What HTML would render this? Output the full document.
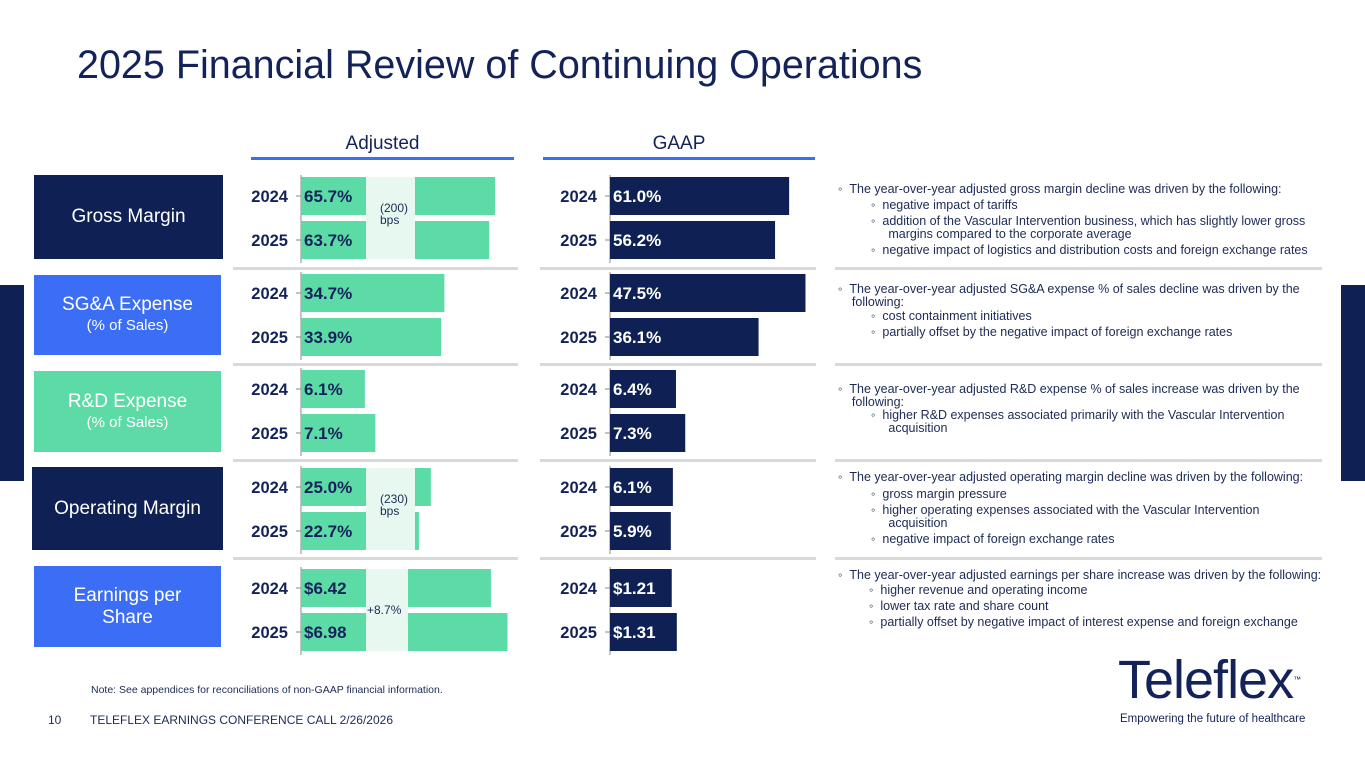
<!DOCTYPE html>
<html><head><meta charset="utf-8">
<style>
body{margin:0;width:1365px;height:768px;background:#fff;position:relative;overflow:hidden;font-family:"Liberation Sans",sans-serif;color:#13235a}
.a{position:absolute;white-space:nowrap}
.box{position:absolute;color:#fff;text-align:center;display:flex;flex-direction:column;justify-content:center;font-size:19px;line-height:22px}
.box small{font-size:15px;line-height:20px}
.t{position:absolute;font-size:12.5px;line-height:13px;color:#1c2a55;white-space:nowrap}
</style></head><body>
<div class="a" style="left:77px;top:43px;font-size:39.5px;color:#13235a">2025 Financial Review of Continuing Operations</div>

<div class="a" style="left:0;top:285px;width:24px;height:196px;background:#0f2154"></div>
<div class="a" style="left:1341px;top:285px;width:24px;height:196px;background:#0f2154"></div>

<div class="a" style="left:251px;top:133px;width:263px;text-align:center;font-size:19px;color:#13235a">Adjusted</div>
<div class="a" style="left:251px;top:157px;width:263px;height:3px;background:#3b6ef5"></div>
<div class="a" style="left:543px;top:133px;width:272px;text-align:center;font-size:19px;color:#13235a">GAAP</div>
<div class="a" style="left:543px;top:157px;width:272px;height:3px;background:#3b6ef5"></div>

<div class="box" style="left:34px;top:175px;width:189px;height:84px;background:#0f2154">Gross Margin</div>
<div class="box" style="left:34px;top:275px;width:187px;height:80px;background:#3b6ef5"><span>SG&amp;A Expense</span><small>(% of Sales)</small></div>
<div class="box" style="left:34px;top:371px;width:187px;height:81px;background:#5ddba6"><span>R&amp;D Expense</span><small>(% of Sales)</small></div>
<div class="box" style="left:32px;top:467px;width:191px;height:83px;background:#0f2154">Operating Margin</div>
<div class="box" style="left:34px;top:566px;width:187px;height:81px;background:#3b6ef5"><span>Earnings per</span><span>Share</span></div>

<svg id="chart" class="a" style="left:0;top:0" width="1365" height="768"></svg>

<div class="t" style="left:838px;top:183px">◦ &nbsp;The year-over-year adjusted gross margin decline was driven by the following:</div>
<div class="t" style="left:871px;top:199px">◦ &nbsp;negative impact of tariffs</div>
<div class="t" style="left:871px;top:215px">◦ &nbsp;addition of the Vascular Intervention business, which has slightly lower gross<br>&nbsp;&nbsp;&nbsp;&nbsp;&nbsp;margins compared to the corporate average</div>
<div class="t" style="left:871px;top:244px">◦ &nbsp;negative impact of logistics and distribution costs and foreign exchange rates</div>

<div class="t" style="left:838px;top:283px">◦ &nbsp;The year-over-year adjusted SG&amp;A expense % of sales decline was driven by the<br>&nbsp;&nbsp;&nbsp;&nbsp;following:</div>
<div class="t" style="left:871px;top:310px">◦ &nbsp;cost containment initiatives</div>
<div class="t" style="left:871px;top:326px">◦ &nbsp;partially offset by the negative impact of foreign exchange rates</div>

<div class="t" style="left:838px;top:383px">◦ &nbsp;The year-over-year adjusted R&amp;D expense % of sales increase was driven by the<br>&nbsp;&nbsp;&nbsp;&nbsp;following:</div>
<div class="t" style="left:871px;top:409px">◦ &nbsp;higher R&amp;D expenses associated primarily with the Vascular Intervention<br>&nbsp;&nbsp;&nbsp;&nbsp;&nbsp;acquisition</div>

<div class="t" style="left:838px;top:471px">◦ &nbsp;The year-over-year adjusted operating margin decline was driven by the following:</div>
<div class="t" style="left:871px;top:488px">◦ &nbsp;gross margin pressure</div>
<div class="t" style="left:871px;top:504px">◦ &nbsp;higher operating expenses associated with the Vascular Intervention<br>&nbsp;&nbsp;&nbsp;&nbsp;&nbsp;acquisition</div>
<div class="t" style="left:871px;top:533px">◦ &nbsp;negative impact of foreign exchange rates</div>

<div class="t" style="left:838px;top:569px">◦ &nbsp;The year-over-year adjusted earnings per share increase was driven by the following:</div>
<div class="t" style="left:869px;top:584px">◦ &nbsp;higher revenue and operating income</div>
<div class="t" style="left:869px;top:600px">◦ &nbsp;lower tax rate and share count</div>
<div class="t" style="left:869px;top:616px">◦ &nbsp;partially offset by negative impact of interest expense and foreign exchange</div>

<div class="a" style="left:91px;top:684px;font-size:10.5px;color:#1c2a55">Note: See appendices for reconciliations of non-GAAP financial information.</div>
<div class="a" style="left:48px;top:713px;font-size:12px;color:#1c2a55">10</div>
<div class="a" style="left:90px;top:713px;font-size:12px;color:#1c2a55">TELEFLEX EARNINGS CONFERENCE CALL 2/26/2026</div>
<div class="a" style="left:1118px;top:652px;font-size:54px;font-weight:normal;letter-spacing:-1px;color:#13235a;line-height:56px">Teleflex<span style="font-size:8px;vertical-align:top;letter-spacing:0">™</span></div>
<div class="a" style="left:1120px;top:713px;font-size:11.5px;color:#13235a">Empowering the future of healthcare</div>

<script>
const categories=["Gross Margin","SG&A","R&D","Operating Margin","EPS"];
const years=["2024","2025"];
const adj2024=[65.7,34.7,6.1,25.0,6.42];
const adj2025=[63.7,33.9,7.1,22.7,6.98];
const gaap2024=[61.0,47.5,6.4,6.1,1.21];
const gaap2025=[56.2,36.1,7.3,5.9,1.31];
const adjLabels2024=["65.7%","34.7%","6.1%","25.0%","$6.42"];
const adjLabels2025=["63.7%","33.9%","7.1%","22.7%","$6.98"];
const gaapLabels2024=["61.0%","47.5%","6.4%","6.1%","$1.21"];
const gaapLabels2025=["56.2%","36.1%","7.3%","5.9%","$1.31"];
const adjAxisMax=[67.7,48.4,19.1,38.5,6.76];
const gaapAxisMax=[68.1,48.6,19.4,19.4,3.92];
const changeLabels=["(200)\nbps","","","(230)\nbps","+8.7%"];

const svg=document.getElementById('chart');
const NS='http://www.w3.org/2000/svg';
const PW=200, adjX0=301, gaapX0=610, rowTop=[177,274,370,468,569], rowStep=44, barH=38;
function xs(v,max,x0){return x0+v/max*PW;}
function mk(tag,attrs){const e=document.createElementNS(NS,tag);for(const k in attrs)e.setAttribute(k,attrs[k]);svg.appendChild(e);return e;}

[268,364,460,558].forEach((y,i)=>{
  let s=mk('rect',{x:233,y:y-1,width:285,height:3,fill:'#d9d9d9'});
  
  
  s=mk('rect',{x:540,y:y-1,width:276,height:3,fill:'#d9d9d9'});
  
  
  s=mk('rect',{x:835,y:y-1,width:487,height:3,fill:'#d9d9d9'});
  
  
});

categories.forEach((c,i)=>{
  const top=rowTop[i];
  const panels=[[adjX0,adjAxisMax[i],[adj2024[i],adj2025[i]],[adjLabels2024[i],adjLabels2025[i]],'#5ddba6','#13235a','adjusted'],
                [gaapX0,gaapAxisMax[i],[gaap2024[i],gaap2025[i]],[gaapLabels2024[i],gaapLabels2025[i]],'#0f2154','#ffffff','gaap']];
  panels.forEach(p=>{
    const [x0,max,vals,labs,fill,tc,nm]=p;
    const ax=mk('line',{x1:x0,y1:top-2,x2:x0,y2:top+rowStep+barH+4,stroke:'#888','stroke-width':1});
    
    
    vals.forEach((v,j)=>{
      const y=top+j*rowStep;
      const b=mk('rect',{x:x0,y:y,width:xs(v,max,x0)-x0,height:barH,fill:fill});
      
      
      mk('line',{x1:x0-5,y1:y+barH/2,x2:x0,y2:y+barH/2,stroke:'#888','stroke-width':1});
      const yl=mk('text',{x:x0-13,y:y+barH/2+6,'text-anchor':'end','font-size':16.5,'font-weight':'bold',fill:'#13235a','font-family':'Liberation Sans'});
      yl.textContent=years[j];
      
      
      const vl=mk('text',{x:x0+3,y:y+barH/2+6,'font-size':17,'font-weight':'bold',fill:tc,'font-family':'Liberation Sans'});
      vl.textContent=labs[j];
      
      
    });
  });
  if(changeLabels[i]){
    const bandW = i===4?42:49;
    const band=mk('rect',{x:366,y:top,width:bandW,height:rowStep+barH,fill:'#e6f8ef'});
    
    
    const lines=changeLabels[i].split('\n');
    lines.forEach((l,k)=>{
      const t=mk('text',{x:i===4?367:380,y:(i===4?top+45:top+35)+k*12,'font-size':12,fill:'#1c2a55','font-family':'Liberation Sans'});
      t.textContent=l;
      
      
    });
  }
});
</script>
</body></html>
